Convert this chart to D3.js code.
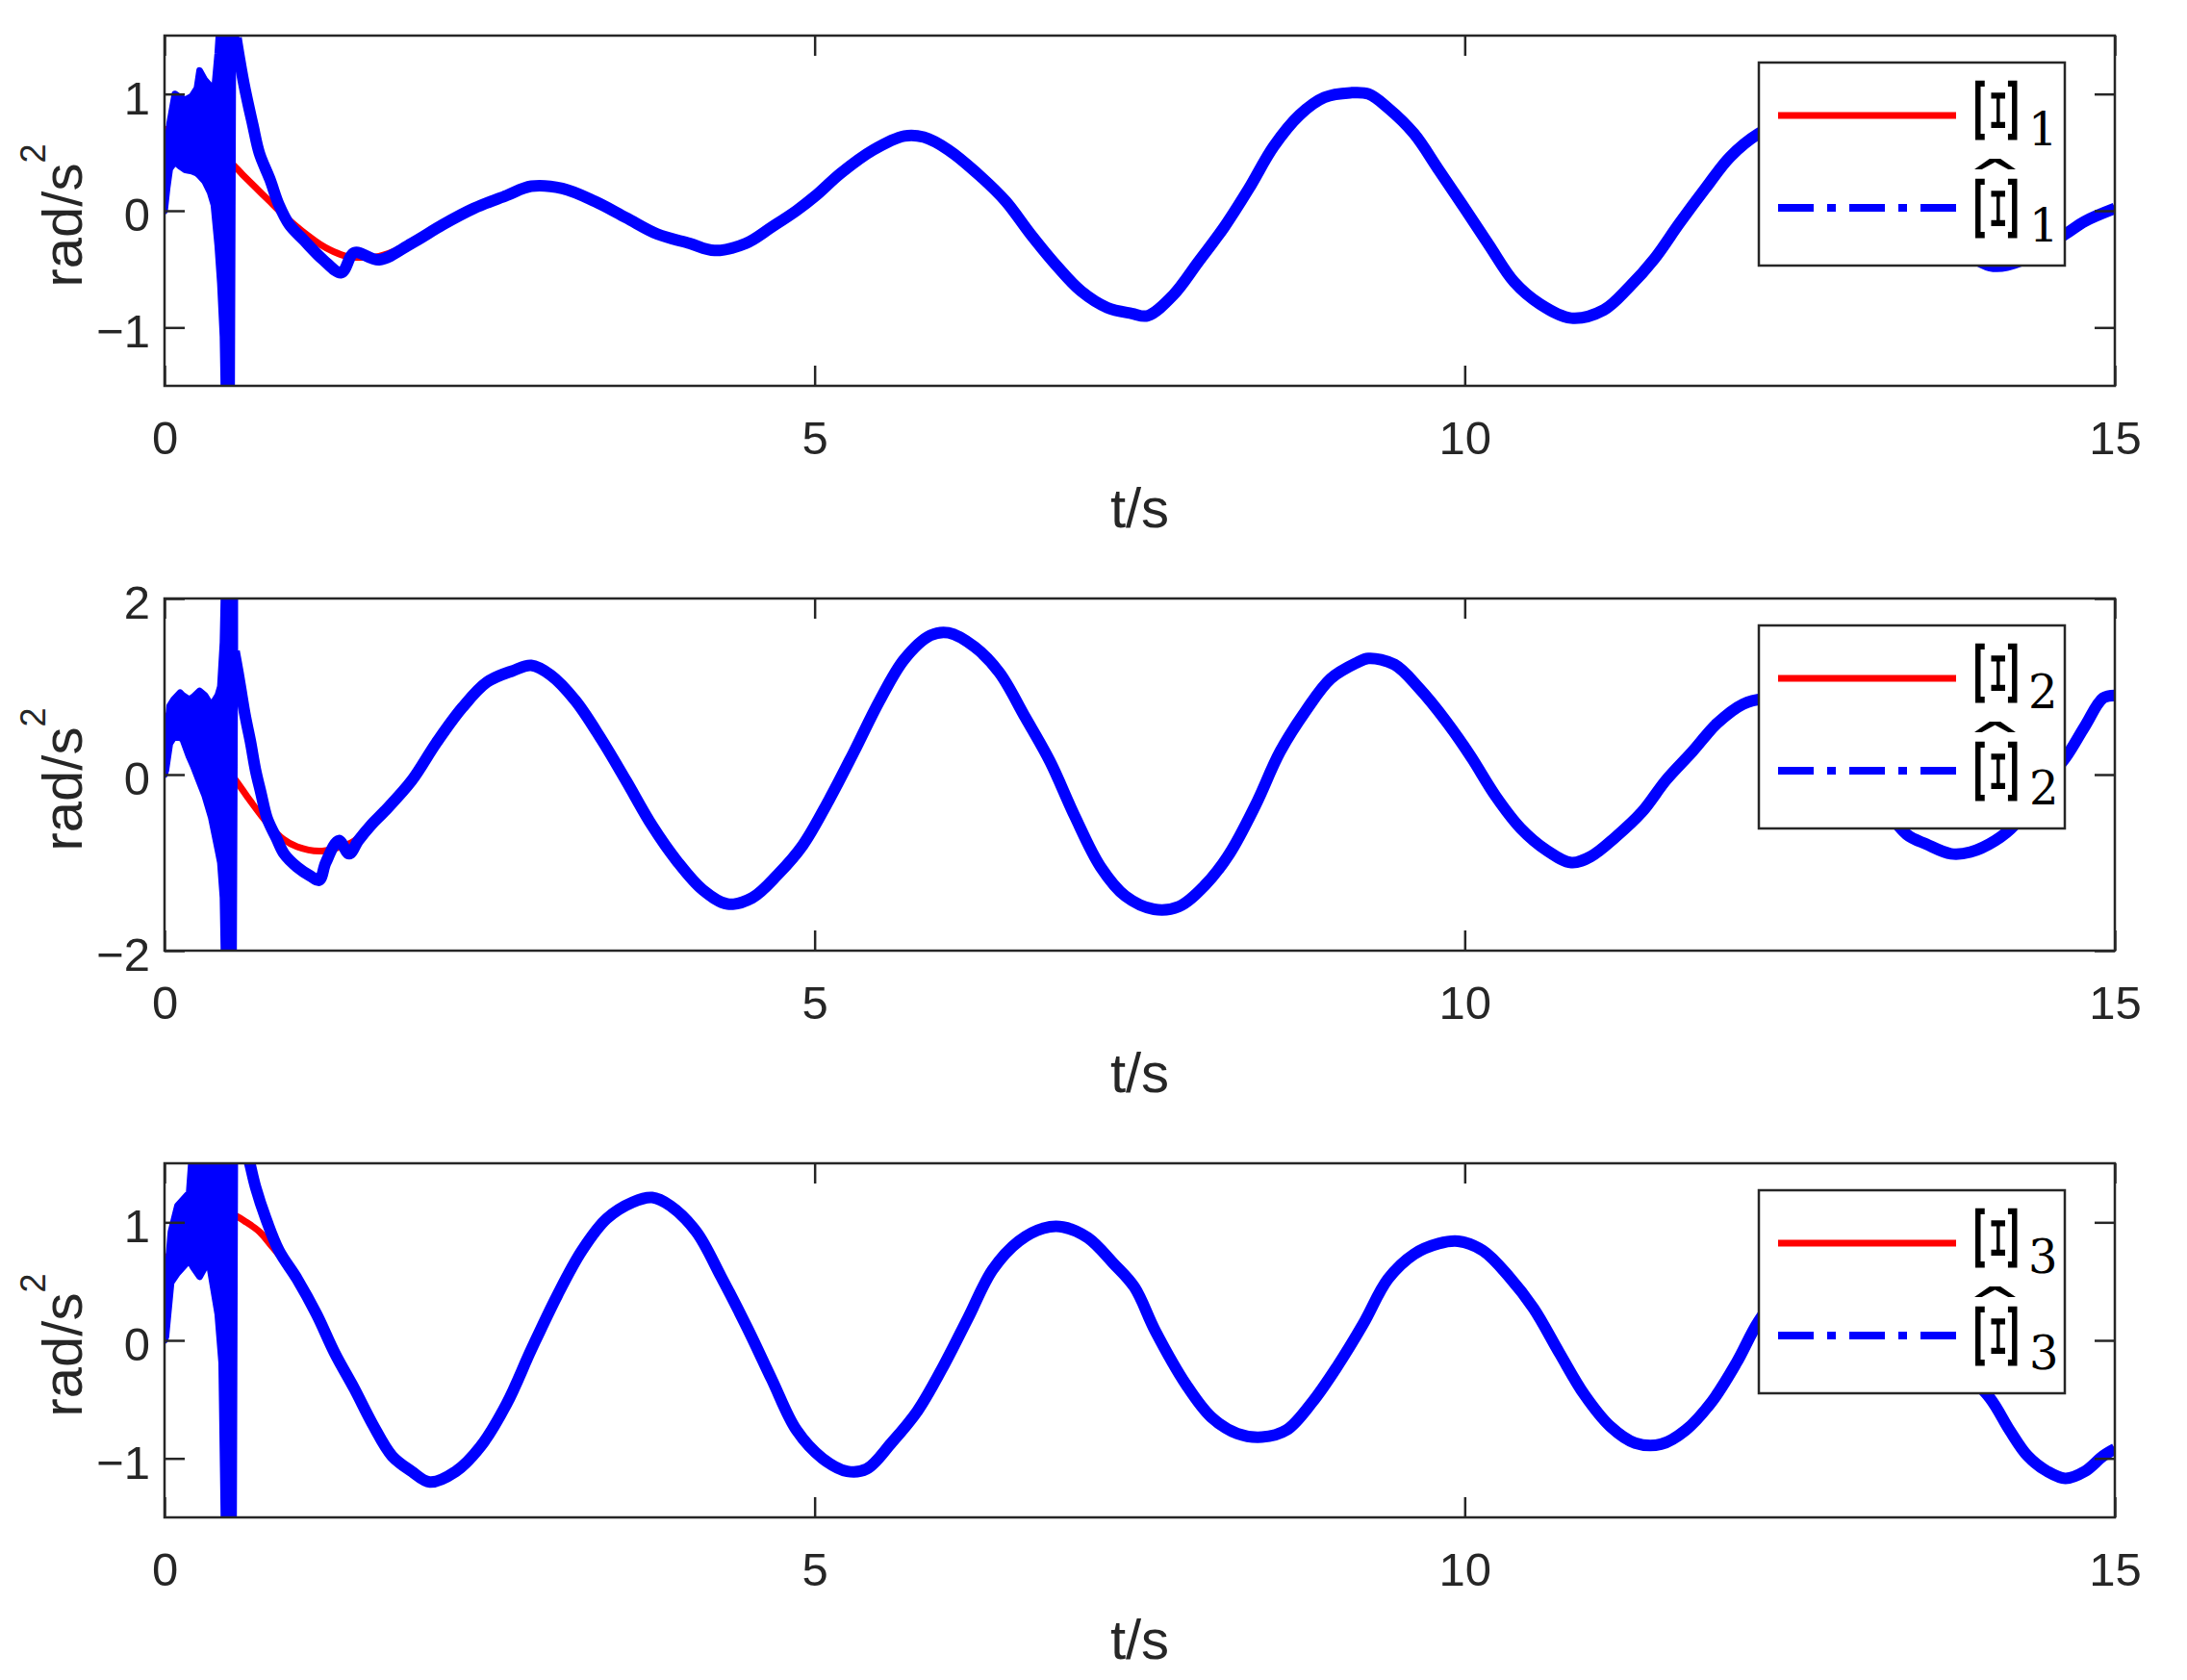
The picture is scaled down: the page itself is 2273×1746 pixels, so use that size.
<!DOCTYPE html>
<html><head><meta charset="utf-8">
<script src="https://cdn.jsdelivr.net/npm/d3@7"></script>
<style>body{margin:0;background:#fff} svg{display:block}</style>
</head><body>
<svg id="fig" width="2273" height="1746"></svg>
<script>
// ---------------- data ----------------
const xTicks = [0, 5, 10, 15];
const legendNames = ["1", "2", "3"];

// Panel 1 : Ξ1
const yDomain1 = [-1.5, 1.5];
const yTicks1 = [-1, 0, 1];
const band1T  = [0, 0.02, 0.04, 0.08, 0.12, 0.16, 0.21, 0.25, 0.27, 0.31, 0.35, 0.38, 0.41, 0.43, 0.45, 0.46, 0.515, 0.525, 0.55];
const band1Hi = [0, 0.55, 0.75, 1.0, 0.97, 0.95, 0.98, 1.05, 1.2, 1.12, 1.07, 0.98, 1.35, 1.7, 1.7, 1.7, 1.7, 1.7, 1.7];
const band1Lo = [0, 0.2, 0.36, 0.42, 0.38, 0.35, 0.34, 0.32, 0.3, 0.25, 0.16, 0.05, -0.3, -0.62, -1.08, -1.7, -1.7, 1.45, 1.48];
const est1T = [0.55, 0.61, 0.68, 0.73, 0.81, 0.88, 0.96, 1.07, 1.22, 1.36, 1.46, 1.65];
const est1V = [1.48, 1.09, 0.73, 0.49, 0.27, 0.05, -0.12, -0.25, -0.42, -0.53, -0.36, -0.42];
const ref1T = [0, 0.1, 0.2, 0.3, 0.4, 0.5, 0.6, 0.7, 0.8, 0.9, 1.0, 1.1, 1.2, 1.3, 1.4, 1.5, 1.65];
const ref1V = [0.70, 0.67, 0.62, 0.55, 0.48, 0.42, 0.31, 0.20, 0.09, -0.02, -0.12, -0.21, -0.29, -0.35, -0.39, -0.40, -0.39];
const tail1T = [1.9, 2.14, 2.38, 2.63, 2.82, 3.06, 3.31, 3.55, 3.79, 4.04, 4.23, 4.47, 4.67, 4.86, 5.01, 5.2, 5.45, 5.69, 5.84, 6.03, 6.27, 6.47, 6.66, 6.86, 7.05, 7.25, 7.44, 7.56, 7.76, 7.95, 8.15, 8.34, 8.53, 8.73, 8.92, 9.12, 9.26, 9.41, 9.61, 9.8, 10.0, 10.19, 10.38, 10.58, 10.82, 11.07, 11.26, 11.46, 11.65, 11.85, 12.04, 12.26, 12.5, 12.75, 13.0, 13.25, 13.5, 13.75, 14.04, 14.3, 14.62, 14.77, 15.0];
const tail1V = [-0.28, -0.12, 0.02, 0.13, 0.21, 0.19, 0.08, -0.06, -0.2, -0.28, -0.34, -0.28, -0.14, 0.0, 0.13, 0.32, 0.52, 0.64, 0.63, 0.52, 0.3, 0.08, -0.2, -0.47, -0.69, -0.83, -0.88, -0.9, -0.72, -0.44, -0.14, 0.19, 0.55, 0.82, 0.97, 1.01, 1.0, 0.88, 0.66, 0.35, 0.02, -0.3, -0.61, -0.8, -0.92, -0.85, -0.66, -0.41, -0.11, 0.19, 0.46, 0.66, 0.78, 0.76, 0.6, 0.35, 0.05, -0.25, -0.47, -0.42, -0.2, -0.09, 0.02];

// Panel 2 : Ξ2
const yDomain2 = [-2, 2];
const yTicks2 = [-2, 0, 2];
const band2T  = [0, 0.01, 0.04, 0.07, 0.12, 0.14, 0.19, 0.22, 0.27, 0.31, 0.36, 0.41, 0.43, 0.45, 0.46, 0.53, 0.54];
const band2Hi = [0, 0.3, 0.78, 0.85, 0.93, 0.9, 0.85, 0.88, 0.95, 0.9, 0.78, 0.9, 1.0, 1.5, 2.2, 2.2, 2.2];
const band2Lo = [0, 0.05, 0.35, 0.42, 0.42, 0.4, 0.2, 0.1, -0.09, -0.24, -0.49, -0.85, -1.0, -1.4, -2.2, -2.2, 1.4];
const est2T = [0.535, 0.56, 0.585, 0.62, 0.66, 0.70, 0.74, 0.79, 0.86, 0.92, 1.02, 1.12, 1.19, 1.24, 1.34, 1.42, 1.49, 1.59, 1.69];
const est2V = [1.4, 1.2, 0.98, 0.67, 0.38, 0.05, -0.2, -0.5, -0.72, -0.9, -1.05, -1.15, -1.2, -1.0, -0.75, -0.9, -0.75, -0.57, -0.42];
const ref2T = [0, 0.1, 0.2, 0.3, 0.4, 0.54, 0.66, 0.79, 0.91, 1.02, 1.19, 1.31, 1.44, 1.56, 1.69];
const ref2V = [0.67, 0.6, 0.5, 0.37, 0.2, -0.05, -0.3, -0.55, -0.73, -0.82, -0.87, -0.84, -0.77, -0.63, -0.45];
const tail2T = [1.9, 2.09, 2.29, 2.48, 2.68, 2.82, 2.97, 3.16, 3.36, 3.55, 3.75, 3.94, 4.14, 4.33, 4.52, 4.72, 4.91, 5.11, 5.3, 5.5, 5.69, 5.89, 6.03, 6.23, 6.42, 6.62, 6.81, 7.0, 7.2, 7.39, 7.61, 7.8, 8.0, 8.19, 8.39, 8.58, 8.78, 8.97, 9.17, 9.26, 9.46, 9.65, 9.85, 10.04, 10.24, 10.43, 10.63, 10.82, 10.97, 11.16, 11.36, 11.55, 11.75, 11.94, 12.14, 12.3, 12.45, 12.6, 12.8, 13.0, 13.2, 13.4, 13.55, 13.74, 13.89, 14.08, 14.23, 14.4, 14.62, 14.77, 14.91, 15.0];
const tail2V = [-0.07, 0.36, 0.76, 1.05, 1.18, 1.24, 1.13, 0.84, 0.4, -0.07, -0.58, -0.98, -1.31, -1.47, -1.4, -1.13, -0.8, -0.29, 0.25, 0.84, 1.31, 1.58, 1.61, 1.45, 1.16, 0.65, 0.15, -0.47, -1.05, -1.38, -1.53, -1.5, -1.26, -0.9, -0.35, 0.26, 0.73, 1.09, 1.27, 1.32, 1.25, 0.98, 0.62, 0.22, -0.25, -0.61, -0.86, -1.0, -0.93, -0.71, -0.43, -0.06, 0.26, 0.58, 0.8, 0.86, 0.85, 0.72, 0.45, 0.08, -0.32, -0.68, -0.79, -0.9, -0.88, -0.75, -0.57, -0.2, 0.19, 0.55, 0.87, 0.9];

// Panel 3 : Ξ3
const yDomain3 = [-1.5, 1.5];
const yTicks3 = [-1, 0, 1];
const band3T  = [0, 0.01, 0.05, 0.1, 0.19, 0.22, 0.27, 0.34, 0.41, 0.44, 0.46, 0.53, 0.54];
const band3Hi = [0, 0.4, 0.92, 1.14, 1.25, 1.7, 1.7, 1.7, 1.7, 1.7, 1.7, 1.7, 1.7];
const band3Lo = [0, 0.03, 0.49, 0.57, 0.68, 0.62, 0.54, 0.68, 0.22, -0.19, -1.7, -1.7, 1.6];
const est3T = [0.54, 0.6, 0.66, 0.7, 0.78, 0.88, 1.02, 1.17, 1.31, 1.46, 1.6];
const est3V = [2.0, 1.75, 1.48, 1.3, 1.03, 0.76, 0.52, 0.22, -0.11, -0.41, -0.71];
const ref3T = [0, 0.1, 0.2, 0.3, 0.4, 0.53, 0.63, 0.73, 0.83, 0.93, 1.02, 1.17, 1.31, 1.46, 1.6];
const ref3V = [0.68, 0.8, 0.9, 0.97, 1.03, 1.06, 1.0, 0.92, 0.79, 0.66, 0.52, 0.22, -0.11, -0.41, -0.71];
const tail3T = [1.75, 1.9, 2.04, 2.24, 2.43, 2.63, 2.82, 3.02, 3.21, 3.4, 3.6, 3.75, 3.89, 4.09, 4.28, 4.48, 4.67, 4.86, 5.06, 5.25, 5.4, 5.59, 5.79, 5.98, 6.18, 6.37, 6.57, 6.76, 6.91, 7.1, 7.3, 7.46, 7.62, 7.86, 8.05, 8.25, 8.44, 8.63, 8.83, 9.02, 9.22, 9.41, 9.61, 9.8, 9.95, 10.14, 10.34, 10.53, 10.73, 10.92, 11.12, 11.31, 11.51, 11.7, 11.9, 12.09, 12.26, 12.5, 12.75, 13.0, 13.25, 13.5, 13.75, 14.04, 14.19, 14.33, 14.48, 14.62, 14.77, 14.91, 15.0];
const tail3V = [-0.98, -1.11, -1.2, -1.11, -0.9, -0.54, -0.08, 0.38, 0.76, 1.03, 1.17, 1.21, 1.14, 0.92, 0.54, 0.11, -0.33, -0.76, -1.0, -1.11, -1.09, -0.87, -0.6, -0.24, 0.19, 0.6, 0.84, 0.95, 0.96, 0.87, 0.65, 0.45, 0.08, -0.38, -0.65, -0.79, -0.82, -0.76, -0.52, -0.22, 0.14, 0.52, 0.73, 0.82, 0.84, 0.76, 0.54, 0.27, -0.11, -0.46, -0.73, -0.87, -0.88, -0.76, -0.52, -0.19, 0.16, 0.5, 0.7, 0.74, 0.55, 0.2, -0.15, -0.49, -0.76, -0.98, -1.11, -1.17, -1.11, -0.98, -0.92];

// ---------------- drawing ----------------
const panels = [
  {yDomain: yDomain1, yTicks: yTicks1, bandT: band1T, bandHi: band1Hi, bandLo: band1Lo, estT: est1T, estV: est1V, refT: ref1T, refV: ref1V, tailT: tail1T, tailV: tail1V},
  {yDomain: yDomain2, yTicks: yTicks2, bandT: band2T, bandHi: band2Hi, bandLo: band2Lo, estT: est2T, estV: est2V, refT: ref2T, refV: ref2V, tailT: tail2T, tailV: tail2V},
  {yDomain: yDomain3, yTicks: yTicks3, bandT: band3T, bandHi: band3Hi, bandLo: band3Lo, estT: est3T, estV: est3V, refT: ref3T, refV: ref3V, tailT: tail3T, tailV: tail3V}
];
const layout = [{top: 37, bottom: 401}, {top: 622, bottom: 988}, {top: 1209, bottom: 1577}];
const LEFT = 171, RIGHT = 2198;
const AX = "#262626";
const SANS = "'Liberation Sans', Arial, Helvetica, sans-serif";
const SERIF = "'DejaVu Serif', 'Liberation Serif', serif";

const svg = d3.select("#fig");
svg.append("rect").attr("width", 2273).attr("height", 1746).attr("fill", "#fff");
const defs = svg.append("defs");
const x = d3.scaleLinear().domain([0, 15]).range([LEFT, RIGHT]);

panels.forEach((s, i) => {
  const L = layout[i];
  const y = d3.scaleLinear().domain(s.yDomain).range([L.bottom, L.top]);
  const g = svg.append("g");
  defs.append("clipPath").attr("id", "clip" + i).append("rect")
    .attr("x", LEFT).attr("y", L.top).attr("width", RIGHT - LEFT).attr("height", L.bottom - L.top);
  const plot = g.append("g").attr("clip-path", `url(#clip${i})`);

  const line = d3.line().x(d => x(d[0])).y(d => y(d[1])).curve(d3.curveCatmullRom.alpha(0.5));
  const refData = d3.zip(s.refT.concat(s.tailT), s.refV.concat(s.tailV));
  const estData = d3.zip(s.estT.concat(s.tailT), s.estV.concat(s.tailV));
  const bandData = d3.zip(s.bandT, s.bandLo, s.bandHi);

  plot.append("path").attr("d", line(refData)).attr("fill", "none")
    .attr("stroke", "#ff0000").attr("stroke-width", 7).attr("stroke-linejoin", "round");
  const area = d3.area().x(d => x(d[0])).y0(d => y(d[1])).y1(d => y(d[2]));
  plot.append("path").attr("d", area(bandData)).attr("fill", "#0000ff")
    .attr("stroke", "#0000ff").attr("stroke-width", 7).attr("stroke-linejoin", "round");
  plot.append("path").attr("d", line(estData)).attr("fill", "none")
    .attr("stroke", "#0000ff").attr("stroke-width", 12).attr("stroke-linejoin", "round");

  // axes
  const styleAxis = a => {
    a.select(".domain").remove();
    a.attr("color", AX).attr("font-family", SANS).attr("font-size", 49);
    a.selectAll(".tick line").attr("stroke-width", 2.5);
    a.selectAll(".tick text").attr("fill", AX);
  };
  g.append("g").attr("transform", `translate(0,${L.bottom})`)
    .call(d3.axisBottom(x).tickValues(xTicks).tickSizeInner(-21).tickSizeOuter(0).tickPadding(36).tickFormat(d3.format("d")))
    .call(styleAxis);
  g.append("g").attr("transform", `translate(0,${L.top})`)
    .call(d3.axisTop(x).tickValues(xTicks).tickSizeInner(-21).tickSizeOuter(0).tickFormat(""))
    .call(styleAxis);
  const ly = g.append("g").attr("transform", `translate(${LEFT},0)`)
    .call(d3.axisLeft(y).tickValues(s.yTicks).tickSizeInner(-21).tickSizeOuter(0).tickPadding(15).tickFormat(d3.format("d")))
    .call(styleAxis);
  ly.selectAll(".tick text").attr("dy", "0.42em");
  g.append("g").attr("transform", `translate(${RIGHT},0)`)
    .call(d3.axisRight(y).tickValues(s.yTicks).tickSizeInner(-21).tickSizeOuter(0).tickFormat(""))
    .call(styleAxis);
  g.append("rect").attr("x", LEFT).attr("y", L.top).attr("width", RIGHT - LEFT).attr("height", L.bottom - L.top)
    .attr("fill", "none").attr("stroke", AX).attr("stroke-width", 2.5);

  // axis labels
  g.append("text").attr("x", (LEFT + RIGHT) / 2).attr("y", L.bottom + 147)
    .attr("text-anchor", "middle").attr("font-family", SANS).attr("font-size", 58).attr("fill", AX).text("t/s");
  const yl = g.append("text")
    .attr("transform", `translate(85,${(L.top + L.bottom) / 2 + 5}) rotate(-90)`)
    .attr("text-anchor", "middle").attr("font-family", SANS).attr("font-size", 58).attr("fill", AX);
  yl.append("tspan").text("rad/s");
  yl.append("tspan").attr("font-size", 36).attr("dy", -38).text("2");

  // legend
  const lg = g.append("g").attr("transform", `translate(1828,${L.top + 28})`);
  lg.append("rect").attr("width", 318).attr("height", 211).attr("fill", "#fff")
    .attr("stroke", AX).attr("stroke-width", 2.5);
  lg.append("line").attr("x1", 20).attr("x2", 205).attr("y1", 55).attr("y2", 55)
    .attr("stroke", "#ff0000").attr("stroke-width", 7);
  lg.append("line").attr("x1", 20).attr("x2", 205).attr("y1", 151).attr("y2", 151)
    .attr("stroke", "#0000ff").attr("stroke-width", 8).attr("stroke-dasharray", "37,14,9,14");
  // entry 1: Ξ_i (glyph turned a quarter, as in the reference)
  lg.append("text").attr("transform", "translate(245.5,50) scale(1,1.75) rotate(90)")
    .attr("text-anchor", "middle").attr("dominant-baseline", "central")
    .attr("font-family", SERIF).attr("font-size", 60).attr("fill", "#000").text("Ξ");
  lg.append("text").attr("x", 280).attr("y", 86).attr("font-family", SERIF).attr("font-size", 48)
    .attr("fill", "#000").text(legendNames[i]);
  // entry 2: hat Ξ_i
  lg.append("text").attr("transform", "translate(245.5,148) scale(2.3,1)")
    .attr("text-anchor", "middle").attr("font-family", SERIF).attr("font-size", 60)
    .attr("fill", "#000").text("ˆ");
  lg.append("text").attr("transform", "translate(245.5,152) scale(1,1.75) rotate(90)")
    .attr("text-anchor", "middle").attr("dominant-baseline", "central")
    .attr("font-family", SERIF).attr("font-size", 60).attr("fill", "#000").text("Ξ");
  lg.append("text").attr("x", 281).attr("y", 186).attr("font-family", SERIF).attr("font-size", 48)
    .attr("fill", "#000").text(legendNames[i]);
});
</script>
</body></html>
